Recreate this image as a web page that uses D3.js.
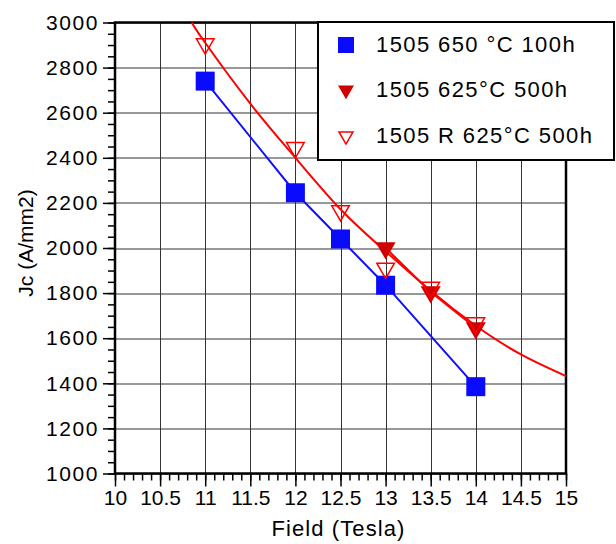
<!DOCTYPE html>
<html>
<head>
<meta charset="utf-8">
<script src="https://cdn.jsdelivr.net/npm/d3@7"></script>
<style>
  body { margin: 0; background: #fff; }
  text { font-family: "Liberation Sans", Arial, Helvetica, sans-serif; }
</style>
</head>
<body>
<div id="chart-area"></div>
<script>
// data
const fieldA = [11, 12, 12.5, 13, 14]
const jcA = [2740, 2245, 2040, 1835, 1385]            // 1505 650 °C 100h

const fieldB = [13, 13.5, 14]
const jcB = [2000, 1805, 1645]                         // 1505 625°C 500h

const fieldC = [11, 12, 12.5, 13, 13.5, 14]
const jcC = [2905, 2445, 2165, 1910, 1825, 1668]       // 1505 R 625°C 500h

// fitted curve as drawn
const fitField = [10.85, 11, 11.5, 12, 12.5, 13, 13.5, 14, 14.5, 15]
const fitJc = [3000, 2910, 2640, 2400, 2172, 1985, 1810, 1655, 1528, 1432]

const xTicks = [10, 10.5, 11, 11.5, 12, 12.5, 13, 13.5, 14, 14.5, 15]
const yTicks = [1000, 1200, 1400, 1600, 1800, 2000, 2200, 2400, 2600, 2800, 3000]
const legendLabels = ["1505 650 °C 100h", "1505 625°C 500h", "1505 R 625°C 500h"]

const W = 616, H = 544
const MARGIN = { LEFT: 115, RIGHT: 50, TOP: 22.5, BOTTOM: 70.5 }
const WIDTH = W - MARGIN.LEFT - MARGIN.RIGHT
const HEIGHT = H - MARGIN.TOP - MARGIN.BOTTOM

const svg = d3.select("#chart-area").append("svg")
  .attr("width", W)
  .attr("height", H)

const g = svg.append("g")
  .attr("transform", `translate(${MARGIN.LEFT}, ${MARGIN.TOP})`)

// scales
const x = d3.scaleLinear().domain([10, 15]).range([0, WIDTH])
const y = d3.scaleLinear().domain([1000, 3000]).range([HEIGHT, 0])

// grid
g.append("g")
  .attr("class", "grid")
  .selectAll("line.v").data(xTicks).join("line")
  .attr("x1", d => Math.round(x(d)) + 0.5).attr("x2", d => Math.round(x(d)) + 0.5)
  .attr("y1", 0).attr("y2", HEIGHT)
  .attr("stroke", "#333").attr("stroke-width", 1)
g.append("g")
  .attr("class", "grid")
  .selectAll("line.h").data(yTicks).join("line")
  .attr("y1", d => Math.round(y(d)) + 0.5).attr("y2", d => Math.round(y(d)) + 0.5)
  .attr("x1", 0).attr("x2", WIDTH)
  .attr("stroke", "#333").attr("stroke-width", 1)

// minor ticks
const xMinor = d3.range(100, 151).map(d => d / 10)
const yMinor = d3.range(1000, 3001, 50)

const xAxisMinor = d3.axisBottom(x).tickValues(xMinor).tickSize(7).tickFormat("")
const xAxisCall = d3.axisBottom(x).tickValues(xTicks).tickSize(13).tickPadding(4)
  .tickFormat(d3.format(""))
const yAxisMinor = d3.axisLeft(y).tickValues(yMinor).tickSize(7).tickFormat("")
const yAxisCall = d3.axisLeft(y).tickValues(yTicks).tickSize(12).tickPadding(4)
  .tickFormat(d3.format(""))

function styleAxis(sel) {
  sel.select(".domain").remove()
  sel.selectAll("line").attr("stroke", "#000").attr("stroke-width", 1.5)
  sel.selectAll("text").attr("fill", "#000").attr("font-size", "21px")
    .attr("font-family", "'Liberation Sans', Arial, sans-serif")
}

g.append("g").attr("transform", `translate(0, ${HEIGHT})`).call(xAxisMinor).call(styleAxis)
g.append("g").attr("transform", `translate(0, ${HEIGHT})`).call(xAxisCall).call(styleAxis)
g.append("g").call(yAxisMinor).call(styleAxis)
g.append("g").call(yAxisCall).call(styleAxis)
  .selectAll("text").attr("letter-spacing", "1.6px")

// frame
g.append("rect")
  .attr("width", WIDTH).attr("height", HEIGHT)
  .attr("fill", "none").attr("stroke", "#000").attr("stroke-width", 2.5)

// axis titles
svg.append("text")
  .attr("x", MARGIN.LEFT + WIDTH / 2 - 2)
  .attr("y", 536)
  .attr("text-anchor", "middle")
  .attr("font-size", "22px")
  .attr("letter-spacing", "1.1px")
  .text("Field (Tesla)")

svg.append("text")
  .attr("transform", `translate(33, 243) rotate(-90)`)
  .attr("text-anchor", "middle")
  .attr("font-size", "21px")
  .text("Jc (A/mm2)")

// lines
const line = d3.line().x(d => x(d[0])).y(d => y(d[1]))
const fitLine = d3.line().x(d => x(d[0])).y(d => y(d[1])).curve(d3.curveNatural)

g.append("path")
  .attr("fill", "none").attr("stroke", "#ff0000").attr("stroke-width", 2)
  .attr("d", fitLine(d3.zip(fitField, fitJc)))

g.append("path")
  .attr("fill", "none").attr("stroke", "#ff0000").attr("stroke-width", 2)
  .attr("d", line(d3.zip(fieldB, jcB)))

g.append("path")
  .attr("fill", "none").attr("stroke", "#1010ff").attr("stroke-width", 2)
  .attr("d", line(d3.zip(fieldA, jcA)))

// markers
const triDown = size => d3.symbol().type(d3.symbolTriangle).size(size)

g.selectAll("rect.sq").data(d3.zip(fieldA, jcA)).join("rect")
  .attr("class", "sq")
  .attr("x", d => x(d[0]) - 9.5).attr("y", d => y(d[1]) - 9.5)
  .attr("width", 19).attr("height", 19)
  .attr("fill", "#0a0aff")

g.selectAll("path.tb").data(d3.zip(fieldB, jcB)).join("path")
  .attr("class", "tb")
  .attr("transform", d => `translate(${x(d[0])}, ${y(d[1])}) rotate(180)`)
  .attr("d", triDown(175)())
  .attr("fill", "#d00000")

g.selectAll("path.tc").data(d3.zip(fieldC, jcC)).join("path")
  .attr("class", "tc")
  .attr("transform", d => `translate(${x(d[0])}, ${y(d[1])}) rotate(180)`)
  .attr("d", triDown(135)())
  .attr("fill", "none").attr("stroke", "#ff0000").attr("stroke-width", 1.5)

// legend
const legend = svg.append("g").attr("transform", "translate(318, 22)")
legend.append("rect")
  .attr("width", 296).attr("height", 138)
  .attr("fill", "#fff").attr("stroke", "#000").attr("stroke-width", 2)

const rowY = [23, 68, 114]
legend.append("rect")
  .attr("x", 20).attr("y", rowY[0] - 8).attr("width", 16).attr("height", 16)
  .attr("fill", "#0a0aff")
legend.append("path")
  .attr("transform", `translate(28, ${rowY[1]}) rotate(180)`)
  .attr("d", triDown(110)())
  .attr("fill", "#d00000")
legend.append("path")
  .attr("transform", `translate(28, ${rowY[2]}) rotate(180)`)
  .attr("d", triDown(85)())
  .attr("fill", "none").attr("stroke", "#ff0000").attr("stroke-width", 1.5)

legend.selectAll("text.lab").data(legendLabels).join("text")
  .attr("class", "lab")
  .attr("x", 58)
  .attr("y", (d, i) => rowY[i] + 7)
  .attr("font-size", "22px")
  .attr("letter-spacing", "1.4px")
  .text(d => d)
</script>
</body>
</html>
